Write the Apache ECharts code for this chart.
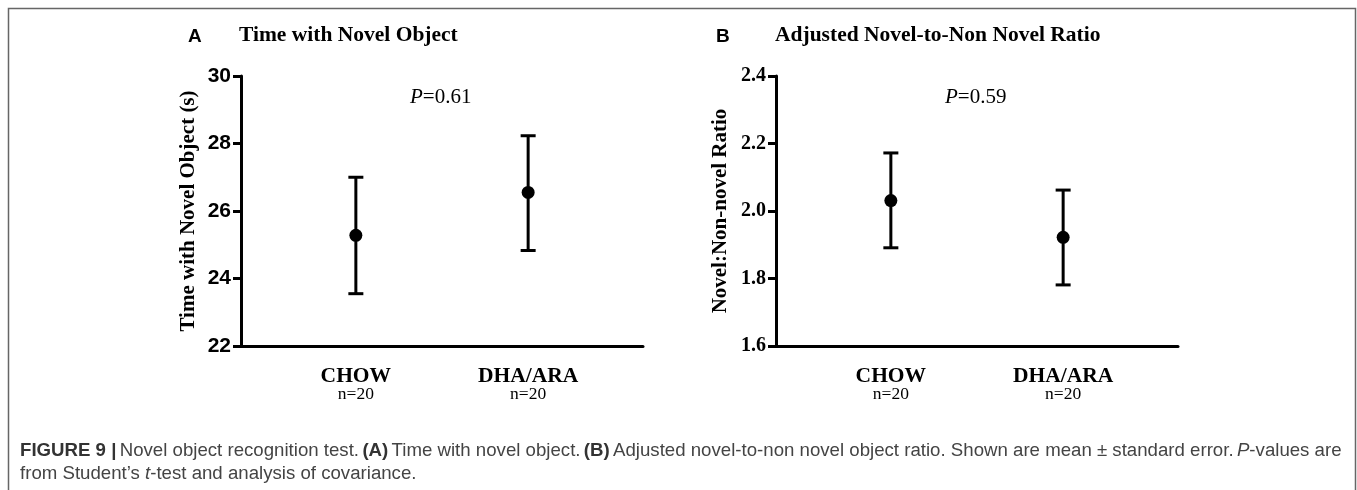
<!DOCTYPE html>
<html>
<head>
<meta charset="utf-8">
<script src="https://cdn.jsdelivr.net/npm/echarts@6/dist/echarts.min.js"></script>
<style>html,body{margin:0;padding:0;background:#fff}#c{width:1357px;height:490px}</style>
</head>
<body>
<div id="c"></div>
<script>
var categories = ['CHOW', 'DHA/ARA'];
var nLabels = ['n=20', 'n=20'];
var timeMean = [25.28, 26.55];
var timeLow = [23.55, 24.83];
var timeHigh = [27.0, 28.23];
var ratioMean = [2.031, 1.922];
var ratioLow = [1.891, 1.781];
var ratioHigh = [2.172, 2.062];
var timeTicks = [22, 24, 26, 28, 30];
var ratioTicks = [1.6, 1.8, 2.0, 2.2, 2.4];

function xOf(i) { return 1 + i * 1.5; }
var catX = categories.map(function (c, i) { return xOf(i); });

function errData(low, high) {
  return categories.map(function (c, i) { return [xOf(i), low[i], high[i]]; });
}
function meanData(mean) {
  return categories.map(function (c, i) { return [xOf(i), mean[i]]; });
}
function renderErr(params, api) {
  var x = api.value(0);
  var lo = api.coord([x, api.value(1)]);
  var hi = api.coord([x, api.value(2)]);
  var cap = 7.5;
  var st = { stroke: '#000', lineWidth: 3, fill: null };
  return {
    type: 'group',
    children: [
      { type: 'line', shape: { x1: lo[0], y1: lo[1], x2: hi[0], y2: hi[1] }, style: st },
      { type: 'line', shape: { x1: lo[0] - cap, y1: lo[1], x2: lo[0] + cap, y2: lo[1] }, style: st },
      { type: 'line', shape: { x1: hi[0] - cap, y1: hi[1], x2: hi[0] + cap, y2: hi[1] }, style: st }
    ]
  };
}
function xLabelFmt(v) {
  var idx = catX.indexOf(v);
  if (idx < 0) return '';
  return '{c|' + categories[idx] + '}\n{n|' + nLabels[idx] + '}';
}
function xAxisCfg(gi) {
  return {
    type: 'value', gridIndex: gi, min: 0, max: 3.5,
    splitLine: { show: false },
    axisLine: { show: true, lineStyle: { color: '#000', width: 3 } },
    axisTick: { show: false },
    axisLabel: {
      customValues: catX, formatter: xLabelFmt, margin: 20,
      rich: {
        c: { fontFamily: 'Liberation Serif', fontWeight: 'bold', fontSize: 21.5, color: '#000', lineHeight: 20, align: 'center' },
        n: { fontFamily: 'Liberation Serif', fontSize: 17.5, color: '#000', lineHeight: 17, align: 'center' }
      }
    }
  };
}
function yAxisCfg(gi, ticks, name, labelFont, labelSize, decimals, nameSize, nameGap) {
  return {
    type: 'value', gridIndex: gi, min: ticks[0], max: ticks[ticks.length - 1],
    interval: ticks[1] - ticks[0],
    name: name, nameLocation: 'middle', nameGap: nameGap, nameRotate: 90,
    nameTextStyle: { fontFamily: 'Liberation Serif', fontWeight: 'bold', fontSize: nameSize, color: '#000' },
    splitLine: { show: false },
    axisLine: { show: true, lineStyle: { color: '#000', width: 3 } },
    axisTick: { show: true, inside: false, length: 8, lineStyle: { color: '#000', width: 3 } },
    axisLabel: {
      margin: 10, color: '#000', fontFamily: labelFont, fontWeight: 'bold', fontSize: labelSize,
      formatter: function (v) { return decimals ? v.toFixed(decimals) : String(v); }
    }
  };
}

var chart = echarts.init(document.getElementById('c'));
chart.setOption({
  animation: false,
  backgroundColor: '#fff',
  grid: [
    { left: 241, right: 714, top: 76, bottom: 144 },
    { left: 776, right: 179, top: 76, bottom: 144 }
  ],
  xAxis: [xAxisCfg(0), xAxisCfg(1)],
  yAxis: [
    yAxisCfg(0, timeTicks, 'Time with Novel Object (s)', 'Liberation Sans', 21, 0, 21, 42),
    yAxisCfg(1, ratioTicks, 'Novel:Non-novel Ratio', 'Liberation Serif', 20, 1, 21, 45)
  ],
  series: [
    { type: 'custom', xAxisIndex: 0, yAxisIndex: 0, renderItem: renderErr, data: errData(timeLow, timeHigh), z: 2 },
    { type: 'scatter', xAxisIndex: 0, yAxisIndex: 0, symbol: 'circle', symbolSize: 13, itemStyle: { color: '#000', opacity: 1 }, data: meanData(timeMean), z: 3 },
    { type: 'custom', xAxisIndex: 1, yAxisIndex: 1, renderItem: renderErr, data: errData(ratioLow, ratioHigh), z: 2 },
    { type: 'scatter', xAxisIndex: 1, yAxisIndex: 1, symbol: 'circle', symbolSize: 13, itemStyle: { color: '#000', opacity: 1 }, data: meanData(ratioMean), z: 3 }
  ],
  graphic: [
    { type: 'rect', shape: { x: 8.5, y: 8.5, width: 1347, height: 500 }, style: { fill: null, stroke: '#666', lineWidth: 1.5 }, silent: true },
    { type: 'text', left: 188, top: 27, style: { text: 'A', fontFamily: 'Liberation Sans', fontWeight: 'bold', fontSize: 19, fill: '#000' } },
    { type: 'text', left: 239, top: 24, style: { text: 'Time with Novel Object', fontFamily: 'Liberation Serif', fontWeight: 'bold', fontSize: 21.5, fill: '#000' } },
    { type: 'text', left: 716, top: 27, style: { text: 'B', fontFamily: 'Liberation Sans', fontWeight: 'bold', fontSize: 19, fill: '#000' } },
    { type: 'text', left: 775, top: 24, style: { text: 'Adjusted Novel-to-Non Novel Ratio', fontFamily: 'Liberation Serif', fontWeight: 'bold', fontSize: 21.5, fill: '#000' } },
    { type: 'text', left: 410, top: 87, style: { text: '{i|P}{r|=0.61}', rich: { i: { fontFamily: 'Liberation Serif', fontStyle: 'italic', fontSize: 21, fill: '#000' }, r: { fontFamily: 'Liberation Serif', fontSize: 21, fill: '#000' } } } },
    { type: 'text', left: 945, top: 87, style: { text: '{i|P}{r|=0.59}', rich: { i: { fontFamily: 'Liberation Serif', fontStyle: 'italic', fontSize: 21, fill: '#000' }, r: { fontFamily: 'Liberation Serif', fontSize: 21, fill: '#000' } } } },
    { type: 'text', left: 20, top: 441, style: {
      text: '{b|FIGURE 9 |} {r|Novel object recognition test.} {b|(A)} {r|Time with novel object.} {b|(B)} {r|Adjusted novel-to-non novel object ratio. Shown are mean \u00b1 standard error.} {i|P}{r|-values are}\n{r|from Student\u2019s }{i|t}{r|-test and analysis of covariance.}',
      rich: {
        b: { fontFamily: 'Liberation Sans', fontWeight: 'bold', fontSize: 18.65, fill: '#333', lineHeight: 23 },
        r: { fontFamily: 'Liberation Sans', fontSize: 18.65, fill: '#444', lineHeight: 23 },
        i: { fontFamily: 'Liberation Sans', fontStyle: 'italic', fontSize: 18.65, fill: '#444', lineHeight: 23 }
      }
    } }
  ]
});
</script>
</body>
</html>
